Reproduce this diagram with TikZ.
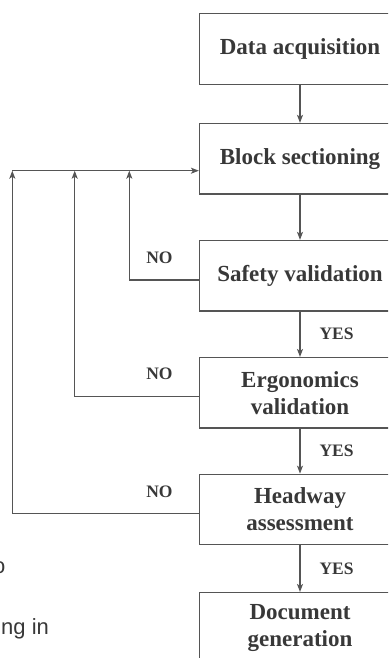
\documentclass[tikz,border=0pt]{standalone}
\usepackage{fontspec}
\setmainfont{Liberation Serif}
\newfontfamily\pagefont{Liberation Sans}
\usetikzlibrary{arrows.meta,positioning,calc}
\definecolor{linegray}{HTML}{555555}
\definecolor{inkgray}{HTML}{383838}

\begin{document}
\begin{tikzpicture}[
    x=1pt, y=1pt,
    stepbox/.style={rectangle, draw=linegray, line width=1.2pt, minimum width=201pt, minimum height=70.5pt, align=center, text=inkgray, font=\fontsize{23}{27}\selectfont\bfseries, inner sep=2pt},
    flow/.style={-{Stealth[length=8pt, width=6pt, inset=2pt]}, line width=1.2pt, color=linegray},
    answer/.style={font=\fontsize{17.5}{20}\selectfont\bfseries, text=inkgray, inner sep=0pt},
    pagetext/.style={font=\pagefont\fontsize{22}{26}\selectfont, text=inkgray, inner sep=0pt}
]
    \useasboundingbox (0,0) rectangle (388,-658);
    \clip (0,0) rectangle (388,-658);

    % --- MAIN CHAIN ---
    \node[stepbox] (acq) at (300,-49) {Data acquisition};
    \node[stepbox] (block) at (300,-158.7) {Block sectioning};
    \node[stepbox] (safety) at (300,-275.7) {Safety validation};
    \node[stepbox] (ergo) at (300,-392.8) {Ergonomics\\validation};
    \node[stepbox] (headway) at (300,-509.5) {Headway\\assessment};
    \node[stepbox] (docgen) at (300,-627.8) {Document\\generation};

    \draw[flow] (acq) -- (block);
    \draw[flow] (block) -- (safety);
    \draw[flow] (safety) -- node[answer, midway, right=19pt] (yesS) {YES} (ergo);
    \draw[flow] (ergo) -- node[answer, midway, right=19pt] (yesE) {YES} (headway);
    \draw[flow] (headway) -- node[answer, midway, right=19pt] (yesH) {YES} (docgen);

    % --- FEEDBACK LOOPS ---
    \coordinate (busS) at (129.3,-170.7);
    \coordinate (busE) at (74.7,-170.7);
    \coordinate (busH) at (12.3,-170.7);
    \coordinate (safetyout) at ($(safety.west)+(0,-4.3)$);
    \coordinate (ergoout) at ($(ergo.west)+(0,-3.9)$);
    \coordinate (headwayout) at ($(headway.west)+(0,-3.8)$);

    \draw[flow] (safetyout) -| (busS);
    \draw[flow] (ergoout) -| (busE);
    \draw[flow] (headwayout) -| (busH);
    \draw[flow] (busH) -- (busH -| block.west);

    \node[answer] (noS) at ($(safetyout)+(-39.5,22.3)$) {NO};
    \node[answer] (noE) at ($(ergoout)+(-39.5,22.7)$) {NO};
    \node[answer] (noH) at ($(headwayout)+(-39.5,21.6)$) {NO};

    % --- CROPPED PAGE TEXT ---
    \node[pagetext, anchor=base east] (frag1) at (5.5,-573) {o};
    \node[pagetext, anchor=base west] (frag2) at (1,-634) {ng in};
\end{tikzpicture}
\end{document}
